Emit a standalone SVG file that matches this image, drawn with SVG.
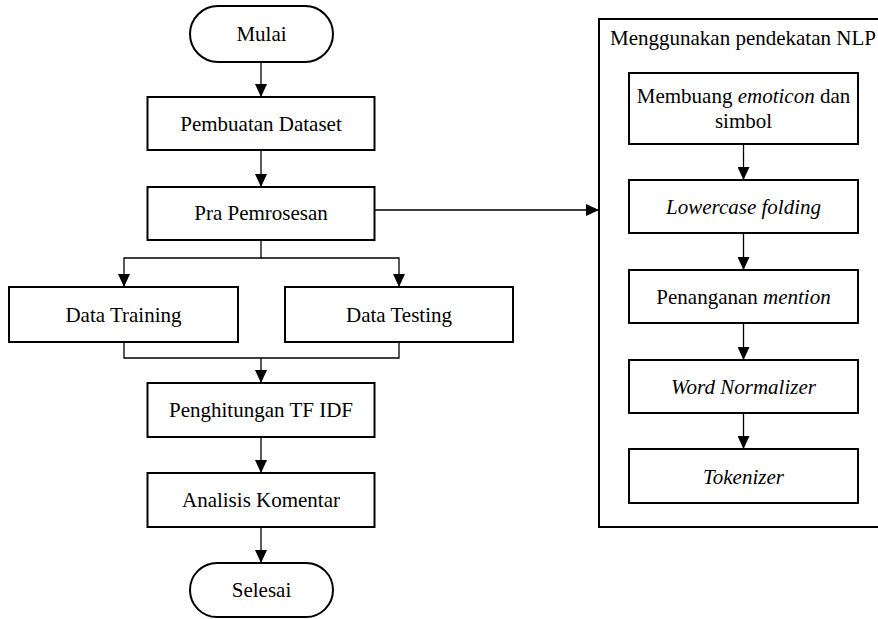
<svg xmlns="http://www.w3.org/2000/svg" width="878" height="619" viewBox="0 0 878 619" font-family="'Liberation Serif', serif" font-size="21">
<style>
.box{fill:#fff;stroke:#000;stroke-width:2}
.ln{fill:none;stroke:#000;stroke-width:1.3}
text{font-family:'Liberation Serif', serif;font-size:21px;fill:#000}
.c{text-anchor:middle}
.i{font-style:italic}
</style>
<defs>
<marker id="ah" viewBox="0 0 13 12" markerWidth="13" markerHeight="12" refX="13" refY="6" orient="auto" markerUnits="userSpaceOnUse">
<path d="M0,0 L13,6 L0,12 z" fill="#000"/>
</marker>
</defs>
<rect width="878" height="619" fill="#fff"/>
<g id="container">
<rect class="box" x="599" y="19" width="290" height="508"/>
<text x="610" y="45">Menggunakan pendekatan NLP</text>
</g>
<g id="connectors">
<path class="ln" d="M261,62 V97" marker-end="url(#ah)"/>
<path class="ln" d="M261,150 V187" marker-end="url(#ah)"/>
<path class="ln" d="M261,240 V258 H124 V287" marker-end="url(#ah)"/>
<path class="ln" d="M261,258 H399 V287" marker-end="url(#ah)"/>
<path class="ln" d="M124,342 V358 H399 V342"/>
<path class="ln" d="M261,358 V383" marker-end="url(#ah)"/>
<path class="ln" d="M261,437 V473" marker-end="url(#ah)"/>
<path class="ln" d="M261,527 V563" marker-end="url(#ah)"/>
<path class="ln" d="M375,210 H599" marker-end="url(#ah)"/>
<path class="ln" d="M743.5,144 V180" marker-end="url(#ah)"/>
<path class="ln" d="M743.5,233 V270" marker-end="url(#ah)"/>
<path class="ln" d="M743.5,323 V360" marker-end="url(#ah)"/>
<path class="ln" d="M743.5,413 V449" marker-end="url(#ah)"/>
</g>
<g id="mulai">
<rect class="box" x="190" y="6" width="143" height="56" rx="28" ry="28"/>
<text class="c" x="261.5" y="41">Mulai</text>
</g>
<g id="pembuatan">
<rect class="box" x="147.5" y="97" width="227" height="53"/>
<text class="c" x="261" y="131">Pembuatan Dataset</text>
</g>
<g id="pra">
<rect class="box" x="147.5" y="187" width="227" height="53"/>
<text class="c" x="261" y="220">Pra Pemrosesan</text>
</g>
<g id="training">
<rect class="box" x="9" y="287" width="229" height="55"/>
<text class="c" x="123.5" y="322">Data Training</text>
</g>
<g id="testing">
<rect class="box" x="285" y="287" width="228" height="55"/>
<text class="c" x="399" y="322">Data Testing</text>
</g>
<g id="tfidf">
<rect class="box" x="147.5" y="383" width="227" height="54"/>
<text class="c" x="261" y="417">Penghitungan TF IDF</text>
</g>
<g id="analisis">
<rect class="box" x="147.5" y="473" width="227" height="54"/>
<text class="c" x="261" y="507">Analisis Komentar</text>
</g>
<g id="selesai">
<rect class="box" x="190" y="563" width="143" height="54" rx="27" ry="27"/>
<text class="c" x="261.5" y="597">Selesai</text>
</g>
<g id="membuang">
<rect class="box" x="629" y="73" width="229" height="71"/>
<text class="c" x="743.5" y="103">Membuang <tspan class="i">emoticon</tspan> dan</text>
<text class="c" x="743.5" y="128">simbol</text>
</g>
<g id="lowercase">
<rect class="box" x="629" y="180" width="229" height="53"/>
<text class="c i" x="743.5" y="214">Lowercase folding</text>
</g>
<g id="mention">
<rect class="box" x="629" y="270" width="229" height="53"/>
<text class="c" x="743.5" y="304">Penanganan <tspan class="i">mention</tspan></text>
</g>
<g id="normalizer">
<rect class="box" x="629" y="360" width="229" height="53"/>
<text class="c i" x="743.5" y="394">Word Normalizer</text>
</g>
<g id="tokenizer">
<rect class="box" x="629" y="449" width="229" height="54"/>
<text class="c i" x="743.5" y="484">Tokenizer</text>
</g>
</svg>
